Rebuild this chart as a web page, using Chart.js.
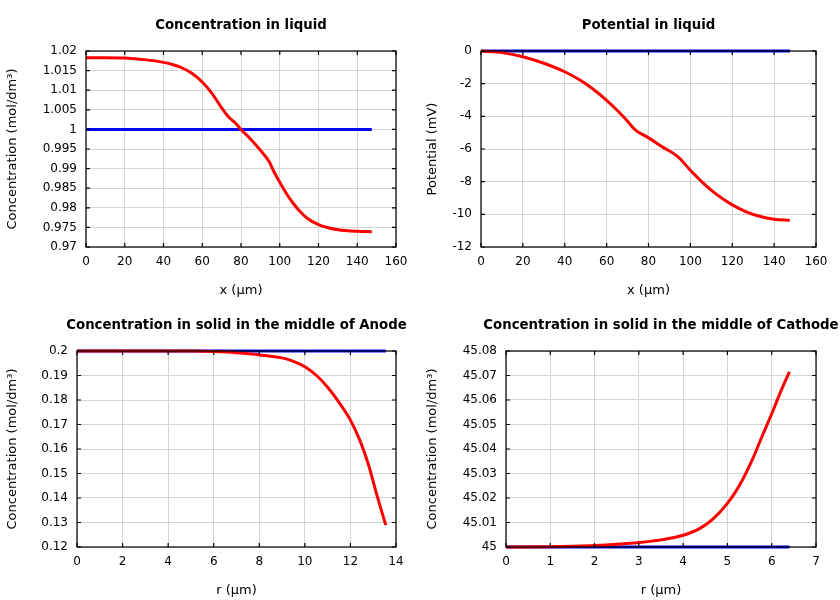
<!DOCTYPE html>
<html>
<head>
<meta charset="utf-8">
<script src="https://cdn.jsdelivr.net/npm/chart.js@4"></script>
<style>
  body { margin: 0; background: #fff; }
  #wrap { position: relative; width: 840px; height: 600px; }
  canvas { position: absolute; }
</style>
</head>
<body>
<div id="wrap">
  <canvas id="c1" width="420" height="300" style="left:0;top:0"></canvas>
  <canvas id="c2" width="420" height="300" style="left:420px;top:0"></canvas>
  <canvas id="c3" width="420" height="300" style="left:0;top:300px"></canvas>
  <canvas id="c4" width="420" height="300" style="left:420px;top:300px"></canvas>
</div>
<script>
// concentration in liquid
const concX = [0, 10, 20, 30, 40, 45, 50, 55, 60, 65, 70, 73.5, 77, 80, 85, 90, 94.5, 97, 100, 103.5, 107, 110, 114, 120, 125, 130, 140, 147.5];
const concY = [1.0183, 1.0183, 1.0182, 1.0178, 1.0171, 1.0165, 1.0156, 1.0142, 1.0121, 1.0092, 1.0055, 1.0032, 1.0017, 1.0000, 0.9975, 0.9947, 0.9918, 0.9892, 0.9865, 0.9836, 0.9811, 0.9793, 0.9774, 0.9757, 0.9749, 0.9744, 0.9740, 0.9739];
const concInitX = [0, 147.5];
const concInitY = [1, 1];

// potential in liquid
const potX = [0, 10, 20, 30, 40, 47, 53, 60, 66, 70, 73.5, 80, 87, 94, 100, 106, 112, 120, 127, 133, 140, 147.5];
const potY = [0, -0.1, -0.35, -0.75, -1.27, -1.76, -2.28, -3.02, -3.75, -4.3, -4.81, -5.32, -5.9, -6.47, -7.3, -8.07, -8.73, -9.42, -9.86, -10.12, -10.3, -10.37];
const potInitX = [0, 147.5];
const potInitY = [0, 0];

// solid, anode
const anodeR = [0, 2, 4, 5, 6, 7, 8, 8.5, 9, 9.5, 10, 10.5, 11, 11.5, 12, 12.41, 12.78, 13.15, 13.55];
const anodeC = [0.2, 0.2, 0.19999, 0.19995, 0.19975, 0.1993, 0.1984, 0.1979, 0.1972, 0.1958, 0.1936, 0.1901, 0.1852, 0.179, 0.1718, 0.1636, 0.154, 0.1416, 0.1289];
const anodeInitR = [0, 13.55];
const anodeInitC = [0.2, 0.2];

// solid, cathode
const cathodeR = [0, 1, 1.5, 2, 2.5, 3, 3.5, 4, 4.37, 4.67, 5, 5.27, 5.57, 5.79, 6, 6.2, 6.4];
const cathodeC = [45, 45.0001, 45.0003, 45.0006, 45.0011, 45.0018, 45.0029, 45.0048, 45.0075, 45.0114, 45.0178, 45.0251, 45.036, 45.0455, 45.0544, 45.0633, 45.0715];
const cathodeInitR = [0, 6.4];
const cathodeInitC = [45, 45];

// tick labels
const xTicksLiquid = [0, 20, 40, 60, 80, 100, 120, 140, 160];
const yTicksConc = [1.02, 1.015, 1.01, 1.005, 1, 0.995, 0.99, 0.985, 0.98, 0.975, 0.97];
const yLabelsConc = ["1.02", "1.015", "1.01", "1.005", "1", "0.995", "0.99", "0.985", "0.98", "0.975", "0.97"];
const yTicksPot = [0, -2, -4, -6, -8, -10, -12];
const yLabelsPot = ["0", "-2", "-4", "-6", "-8", "-10", "-12"];
const xTicksAnode = [0, 2, 4, 6, 8, 10, 12, 14];
const yTicksAnode = [0.2, 0.19, 0.18, 0.17, 0.16, 0.15, 0.14, 0.13, 0.12];
const yLabelsAnode = ["0.2", "0.19", "0.18", "0.17", "0.16", "0.15", "0.14", "0.13", "0.12"];
const xTicksCathode = [0, 1, 2, 3, 4, 5, 6, 7];
const yTicksCathode = [45.08, 45.07, 45.06, 45.05, 45.04, 45.03, 45.02, 45.01, 45];
const yLabelsCathode = ["45.08", "45.07", "45.06", "45.05", "45.04", "45.03", "45.02", "45.01", "45"];

Chart.defaults.font.family = "'DejaVu Sans', sans-serif";
Chart.defaults.color = "#000";

function pts(xs, ys) {
  return xs.map((x, i) => ({ x: x, y: ys[i] }));
}

// black frame, inward tick marks on all four sides, title over the plot area
const frame = {
  id: "frame",
  afterDatasetsDraw(chart, args, opts) {
    const { ctx, chartArea: a, scales } = chart;
    const x = scales.x, y = scales.y;
    ctx.save();
    ctx.strokeStyle = "#000";
    ctx.lineWidth = 1.2;
    ctx.beginPath();
    x.ticks.forEach(t => {
      const px = x.getPixelForValue(t.value);
      ctx.moveTo(px, a.bottom); ctx.lineTo(px, a.bottom - 4);
      ctx.moveTo(px, a.top); ctx.lineTo(px, a.top + 4);
    });
    y.ticks.forEach(t => {
      const py = y.getPixelForValue(t.value);
      ctx.moveTo(a.left, py); ctx.lineTo(a.left + 4, py);
      ctx.moveTo(a.right, py); ctx.lineTo(a.right - 4, py);
    });
    ctx.stroke();
    ctx.strokeRect(a.left, a.top, a.right - a.left, a.bottom - a.top);

    ctx.fillStyle = "#000";
    ctx.font = "bold 13.3px 'DejaVu Sans', sans-serif";
    ctx.textAlign = "center";
    ctx.textBaseline = "middle";
    ctx.fillText(opts.text, (a.left + a.right) / 2, 26);
    ctx.restore();
  }
};

function makeChart(id, o) {
  return new Chart(document.getElementById(id), {
    type: "line",
    data: {
      datasets: [
        { data: pts(o.xs, o.ys), borderColor: "#ff0000", borderWidth: 3, pointRadius: 0, cubicInterpolationMode: "monotone", clip: false },
        { data: pts(o.x0, o.y0), borderColor: "#0000ff", borderWidth: 3, pointRadius: 0, clip: false }
      ]
    },
    options: {
      responsive: false,
      animation: false,
      layout: { padding: { left: 0, right: 420 - o.right, top: 51, bottom: 0 } },
      plugins: {
        legend: { display: false },
        tooltip: { enabled: false },
        title: { display: false },
        frame: { text: o.title }
      },
      scales: {
        x: {
          type: "linear",
          min: o.xTicks[0],
          max: o.xTicks[o.xTicks.length - 1],
          afterBuildTicks: s => { s.ticks = o.xTicks.map(v => ({ value: v })); },
          afterFit: s => { s.height = 300 - 247; },
          ticks: { font: { size: 12 }, padding: 8, maxRotation: 0, autoSkip: false },
          grid: { color: "#d4d4d4", drawTicks: false },
          border: { display: false },
          title: { display: true, text: o.xTitle, font: { size: 13 }, padding: { top: 0, bottom: 2 } }
        },
        y: {
          type: "linear",
          min: Math.min(...o.yTicks),
          max: Math.max(...o.yTicks),
          afterBuildTicks: s => { s.ticks = o.yTicks.map(v => ({ value: v })); },
          afterFit: s => { s.width = o.left; },
          ticks: { font: { size: 12 }, padding: 9, autoSkip: false, callback: (v, i) => o.yLabels[i] },
          grid: { color: "#d4d4d4", drawTicks: false },
          border: { display: false },
          title: { display: true, text: o.yTitle, font: { size: 13 }, padding: { top: 5, bottom: 0 } }
        }
      }
    },
    plugins: [frame]
  });
}

const concTitle = "Concentration (mol/dm\u00b3)";

makeChart("c1", {
  title: "Concentration in liquid", xTitle: "x (\u00b5m)", yTitle: concTitle,
  xs: concX, ys: concY, x0: concInitX, y0: concInitY,
  xTicks: xTicksLiquid, yTicks: yTicksConc, yLabels: yLabelsConc,
  left: 86, right: 396
});
makeChart("c2", {
  title: "Potential in liquid", xTitle: "x (\u00b5m)", yTitle: "Potential (mV)",
  xs: potX, ys: potY, x0: potInitX, y0: potInitY,
  xTicks: xTicksLiquid, yTicks: yTicksPot, yLabels: yLabelsPot,
  left: 61, right: 396
});
makeChart("c3", {
  title: "Concentration in solid in the middle of Anode", xTitle: "r (\u00b5m)", yTitle: concTitle,
  xs: anodeR, ys: anodeC, x0: anodeInitR, y0: anodeInitC,
  xTicks: xTicksAnode, yTicks: yTicksAnode, yLabels: yLabelsAnode,
  left: 77, right: 396
});
makeChart("c4", {
  title: "Concentration in solid in the middle of Cathode", xTitle: "r (\u00b5m)", yTitle: concTitle,
  xs: cathodeR, ys: cathodeC, x0: cathodeInitR, y0: cathodeInitC,
  xTicks: xTicksCathode, yTicks: yTicksCathode, yLabels: yLabelsCathode,
  left: 86, right: 396
});
</script>
</body>
</html>
